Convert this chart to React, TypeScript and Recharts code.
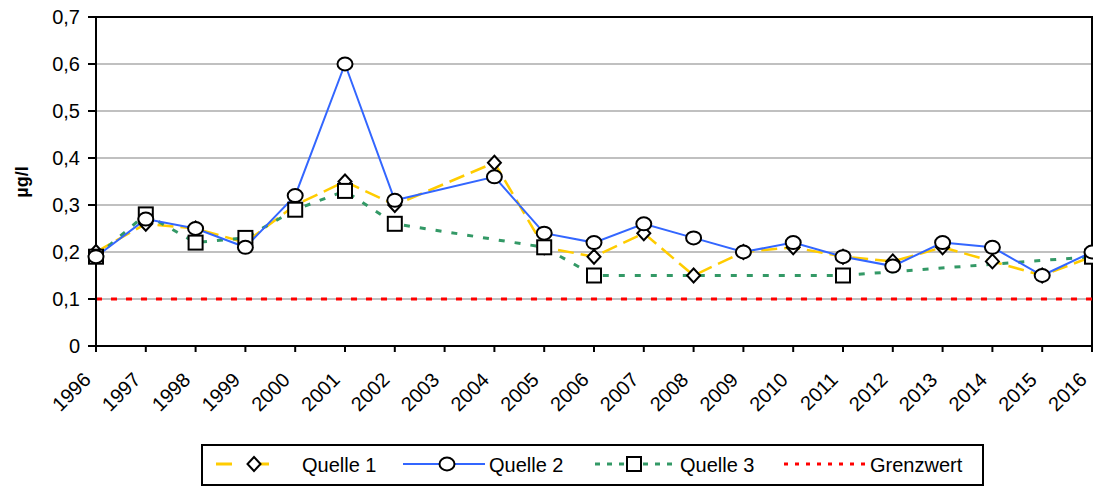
import React from 'react';
import { LineChart, Line, XAxis, YAxis, CartesianGrid, ReferenceArea, Label } from 'recharts';

const years = ['1996', '1997', '1998', '1999', '2000', '2001', '2002', '2003', '2004', '2005', '2006',
  '2007', '2008', '2009', '2010', '2011', '2012', '2013', '2014', '2015', '2016'];
const quelle1 = [0.2, 0.26, 0.25, 0.22, 0.3, 0.35, 0.3, null, 0.39, 0.21, 0.19,
  0.24, 0.15, 0.2, 0.21, 0.19, 0.18, 0.21, 0.18, 0.15, 0.19];
const quelle2 = [0.19, 0.27, 0.25, 0.21, 0.32, 0.6, 0.31, null, 0.36, 0.24, 0.22,
  0.26, 0.23, 0.2, 0.22, 0.19, 0.17, 0.22, 0.21, 0.15, 0.2];
const quelle3 = [0.19, 0.28, 0.22, 0.23, 0.29, 0.33, 0.26, null, null, 0.21, 0.15,
  null, null, null, null, 0.15, null, null, null, null, 0.19];
const grenzwert = [0.1, 0.1, 0.1, 0.1, 0.1, 0.1, 0.1, 0.1, 0.1, 0.1, 0.1,
  0.1, 0.1, 0.1, 0.1, 0.1, 0.1, 0.1, 0.1, 0.1, 0.1];
const yTicks = [0, 0.1, 0.2, 0.3, 0.4, 0.5, 0.6, 0.7];

const data = years.map((year, i) => ({
  year,
  q1: quelle1[i],
  q2: quelle2[i],
  q3: quelle3[i],
  gw: grenzwert[i],
}));

const FONT = '"Liberation Sans", Arial, sans-serif';
const YELLOW = '#FFCC00';
const BLUE = '#3366FF';
const GREEN = '#339966';
const RED = '#FF0000';

const Diamond = ({ cx, cy }: { cx: number; cy: number }) => (
  <path d={`M${cx},${cy - 7}L${cx + 6.5},${cy}L${cx},${cy + 7}L${cx - 6.5},${cy}Z`} fill="#fff" stroke="#000" strokeWidth={2} />
);
const Oval = ({ cx, cy }: { cx: number; cy: number }) => (
  <ellipse cx={cx} cy={cy} rx={7.5} ry={6.5} fill="#fff" stroke="#000" strokeWidth={2} />
);
const Square = ({ cx, cy }: { cx: number; cy: number }) => (
  <rect x={cx - 7} y={cy - 7} width={14} height={14} fill="#fff" stroke="#000" strokeWidth={2} />
);

const makeDot = (Shape: any) => (props: any) => {
  const { cx, cy, value, index } = props;
  if (value == null || cy == null || isNaN(cy)) return <g key={`d-${index}`} />;
  return <Shape key={`d-${index}`} cx={cx} cy={cy} />;
};

const fmt = (v: number) => (v === 0 ? '0' : v.toFixed(1).replace('.', ','));

const XTick = (props: any) => {
  const { x, y, payload } = props;
  const ax = x - 4;
  const ay = y + 27;
  return (
    <text x={ax} y={ay} transform={`rotate(-45, ${ax}, ${ay})`} textAnchor="end" fontSize={20} fontFamily={FONT} fill="#000">
      {payload.value}
    </text>
  );
};

const Legend = () => (
  <svg width={1093} height={47} style={{ position: 'absolute', left: 0, top: 440 }}>
    <rect x={202} y={5} width={781} height={40} fill="#fff" stroke="#000" strokeWidth={2} />
    <line x1={216} x2={290} y1={24} y2={24} stroke={YELLOW} strokeWidth={3} strokeDasharray="16 21" />
    <Diamond cx={254} cy={24} />
    <text x={302} y={32} fontSize={20} fontFamily={FONT}>Quelle 1</text>
    <line x1={403} x2={485} y1={24} y2={24} stroke={BLUE} strokeWidth={2} />
    <Oval cx={447} cy={24} />
    <text x={489} y={32} fontSize={20} fontFamily={FONT}>Quelle 2</text>
    <line x1={595} x2={675} y1={24} y2={24} stroke={GREEN} strokeWidth={3} strokeDasharray="5 7" />
    <Square cx={634} cy={24} />
    <text x={680} y={32} fontSize={20} fontFamily={FONT}>Quelle 3</text>
    <line x1={784} x2={866} y1={24} y2={24} stroke={RED} strokeWidth={3} strokeDasharray="4 7" />
    <text x={870} y={32} fontSize={20} fontFamily={FONT}>Grenzwert</text>
  </svg>
);

export default function App() {
  return (
    <div style={{ position: 'absolute', left: 0, top: 0, width: 1093, height: 487, background: '#fff' }}>
      <LineChart width={1093} height={487} data={data} margin={{ top: 17, right: 1, left: 0, bottom: 0 }}>
        <CartesianGrid vertical={false} stroke="#c0c0c0" strokeWidth={2} />
        <ReferenceArea x1="1996" x2="2016" y1={0} y2={0.7} fill="none" fillOpacity={0} stroke="#000" strokeWidth={2} ifOverflow="visible" />
        <XAxis
          dataKey="year"
          height={141}
          padding={{ left: 0, right: 0 }}
          interval={0}
          stroke="#000"
          axisLine={{ stroke: '#000', strokeWidth: 2 }}
          tickLine={{ stroke: '#000', strokeWidth: 2 }}
          tickSize={6}
          tick={<XTick />}
        />
        <YAxis
          width={96}
          domain={[0, 0.7]}
          ticks={yTicks}
          interval={0}
          tickFormatter={fmt}
          axisLine={{ stroke: '#000', strokeWidth: 2 }}
          tickLine={{ stroke: '#000', strokeWidth: 2 }}
          tickSize={8}
          tickMargin={8}
          tick={{ fill: '#000', fontSize: 20, fontFamily: FONT }}
        >
          <Label
            content={() => (
              <text x={28} y={182} transform="rotate(-90, 28, 182)" textAnchor="middle" fontSize={18} fontWeight="bold" fontFamily={FONT} fill="#000">
                µg/l
              </text>
            )}
          />
        </YAxis>
        <Line dataKey="gw" stroke={RED} strokeWidth={3} strokeDasharray="6 9" dot={false} activeDot={false} isAnimationActive={false} />
        <Line dataKey="q1" stroke={YELLOW} strokeWidth={2.5} strokeDasharray="16 7" connectNulls dot={makeDot(Diamond)} activeDot={false} isAnimationActive={false} />
        <Line dataKey="q3" stroke={GREEN} strokeWidth={3} strokeDasharray="6 10" connectNulls dot={makeDot(Square)} activeDot={false} isAnimationActive={false} />
        <Line dataKey="q2" stroke={BLUE} strokeWidth={2} connectNulls dot={makeDot(Oval)} activeDot={false} isAnimationActive={false} />
      </LineChart>
      <Legend />
    </div>
  );
}
